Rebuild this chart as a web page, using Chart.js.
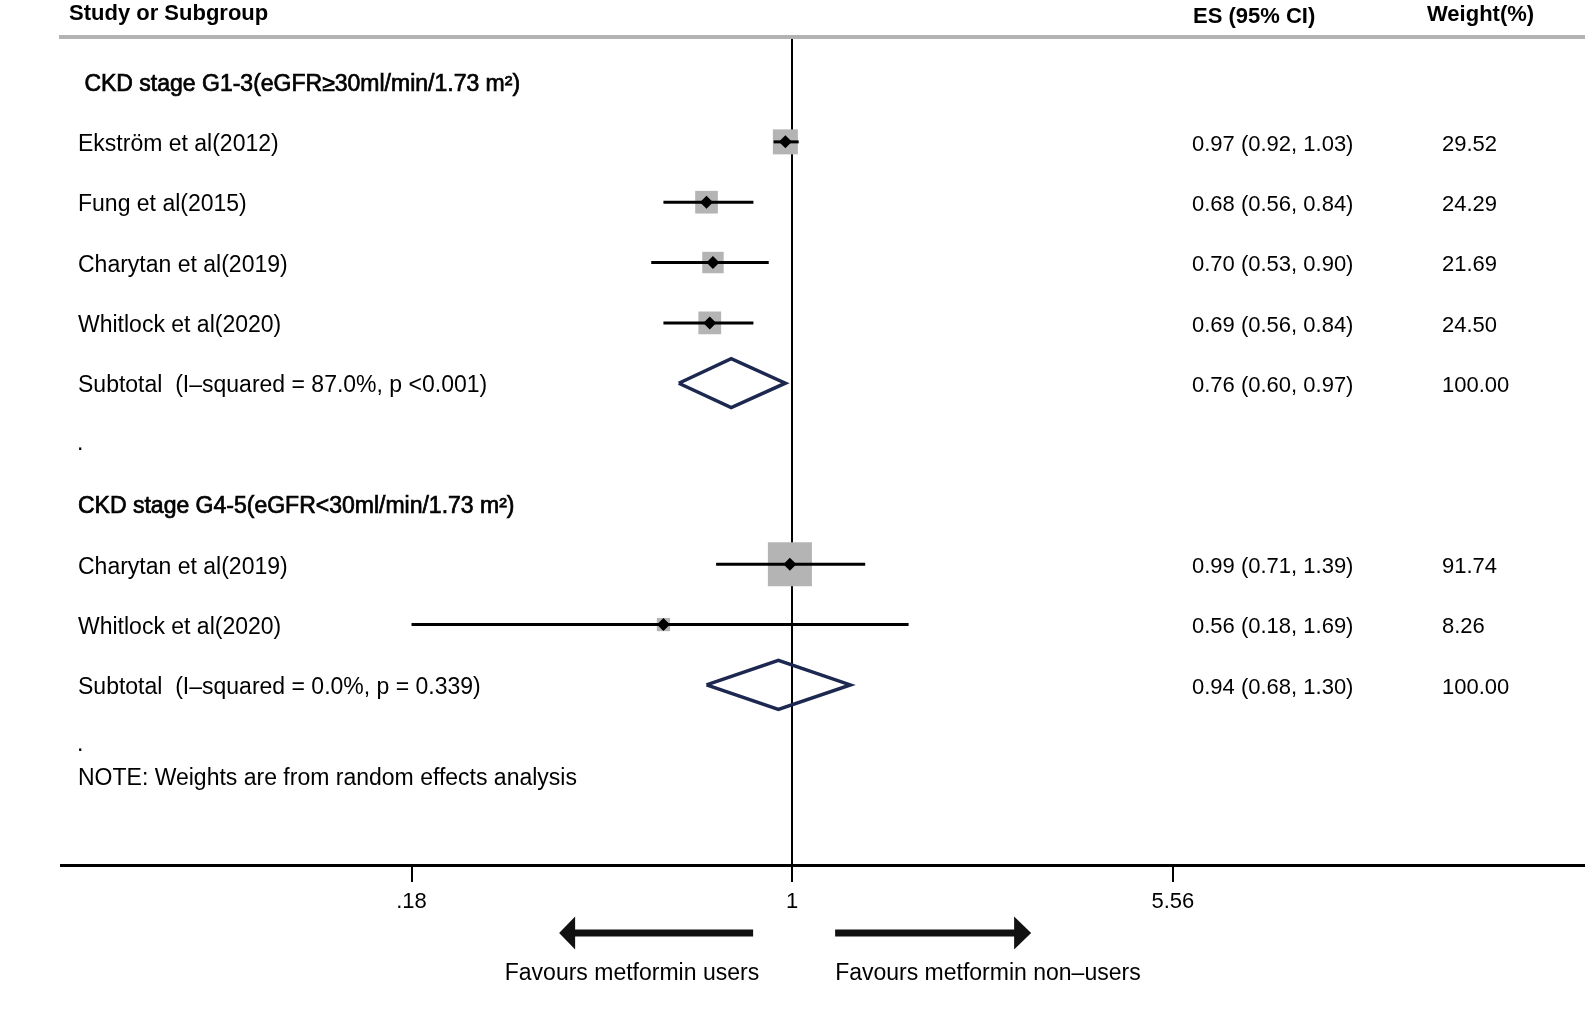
<!DOCTYPE html>
<html lang="en">
<head>
  <meta charset="UTF-8">
  <title>Forest plot - metformin and CKD stage</title>
  <script src="https://cdn.jsdelivr.net/npm/chart.js"></script>
  <style>
    body { margin: 0; background: #fff; }
    #wrap { width: 1585px; height: 1012px; }
  </style>
</head>
<body>
<div id="wrap">
  <canvas id="forest" width="1585" height="1012"></canvas>
</div>

<script>
  // ---- data ----
  const groupNames = [' CKD stage G1-3(eGFR≥30ml/min/1.73 m²)', 'CKD stage G4-5(eGFR<30ml/min/1.73 m²)'];
  const studies = ['Ekström et al(2012)', 'Fung et al(2015)', 'Charytan et al(2019)', 'Whitlock et al(2020)',
                   'Charytan et al(2019)', 'Whitlock et al(2020)'];
  const studyGroup = [0, 0, 0, 0, 1, 1];
  const es = [0.97, 0.68, 0.70, 0.69, 0.99, 0.56];
  const ciLow = [0.92, 0.56, 0.53, 0.56, 0.71, 0.18];
  const ciHigh = [1.03, 0.84, 0.90, 0.84, 1.39, 1.69];
  const weights = [29.52, 24.29, 21.69, 24.50, 91.74, 8.26];

  const subtotalLabels = ['Subtotal  (I–squared = 87.0%, p <0.001)', 'Subtotal  (I–squared = 0.0%, p = 0.339)'];
  const subES = [0.76, 0.94];
  const subLow = [0.60, 0.68];
  const subHigh = [0.97, 1.30];
  const subWeight = [100.00, 100.00];

  const xTicks = [0.18, 1, 5.56];
  const xTickLabels = ['.18', '1', '5.56'];

  // ---- row layout: header, studies, subtotal, spacer per group ----
  const headerRow = [], subtotalRow = [], dotRow = [], studyRow = [];
  let r = 0;
  groupNames.forEach((g, gi) => {
    headerRow.push(r++);
    studyGroup.forEach((sg, si) => { if (sg === gi) studyRow[si] = r++; });
    subtotalRow.push(r++);
    dotRow.push(r++);
  });
  const noteRow = r - 0.5;

  const FONT = '"Liberation Sans", Arial, sans-serif';
  const DIAMOND_HALF = 0.405;   // half height of pooled diamond, in rows
  const SQUARE_K = 4.6;         // square side = k * sqrt(weight)

  const datasets = [];

  // point estimate markers
  datasets.push({
    data: es.map((v, i) => ({ x: v, y: studyRow[i] })),
    pointStyle: 'rectRot',
    pointRadius: 6.5,
    backgroundColor: '#000',
    borderWidth: 0,
    order: 0
  });

  // confidence intervals
  es.forEach((v, i) => {
    datasets.push({
      data: [{ x: ciLow[i], y: studyRow[i] }, { x: ciHigh[i], y: studyRow[i] }],
      showLine: true,
      borderColor: '#000',
      borderWidth: 3,
      pointRadius: 0,
      order: 1
    });
  });

  // weight squares
  datasets.push({
    data: weights.map((w, i) => ({ x: es[i], y: studyRow[i] })),
    pointStyle: 'rect',
    pointRadius: c => SQUARE_K * Math.sqrt(weights[c.dataIndex]) / Math.SQRT2,
    backgroundColor: '#b4b4b4',
    borderWidth: 0,
    order: 2
  });

  // pooled diamonds
  subES.forEach((v, i) => {
    const y = subtotalRow[i];
    datasets.push({
      data: [
        { x: subLow[i], y: y },
        { x: v, y: y - DIAMOND_HALF },
        { x: subHigh[i], y: y },
        { x: v, y: y + DIAMOND_HALF },
        { x: subLow[i], y: y }
      ],
      showLine: true,
      borderColor: '#1c2850',
      borderWidth: 3.5,
      borderJoinStyle: 'miter',
      pointRadius: 0,
      tension: 0,
      order: 1
    });
  });

  // text columns, headers, arrows
  const forestText = {
    id: 'forestText',
    afterDatasetsDraw(chart) {
      const { ctx, scales: { x, y } } = chart;
      const base = (row, size) => y.getPixelForValue(row) + size * 0.36 + 1;
      const fmt = v => v.toFixed(2);
      ctx.save();
      ctx.fillStyle = '#000';
      ctx.textBaseline = 'alphabetic';
      ctx.textAlign = 'left';

      ctx.font = 'bold 22px ' + FONT;
      ctx.fillText('Study or Subgroup', 69, 20);
      ctx.fillText('ES (95% CI)', 1193, 23);
      ctx.fillText('Weight(%)', 1427, 21);

      // subgroup headings (slightly heavier)
      ctx.font = '23px ' + FONT;
      ctx.strokeStyle = '#000';
      ctx.lineWidth = 0.7;
      groupNames.forEach((g, i) => {
        ctx.fillText(g, 78, base(headerRow[i], 23));
        ctx.strokeText(g, 78, base(headerRow[i], 23));
      });

      studies.forEach((s, i) => ctx.fillText(s, 78, base(studyRow[i], 23)));
      subtotalLabels.forEach((s, i) => ctx.fillText(s, 78, base(subtotalRow[i], 23)));
      dotRow.forEach(row => ctx.fillText('.', 77, y.getPixelForValue(row) + 6));
      ctx.fillText('NOTE: Weights are from random effects analysis', 78, base(noteRow, 23));

      ctx.font = '22px ' + FONT;
      es.forEach((v, i) => {
        const b = base(studyRow[i], 22);
        ctx.fillText(fmt(v) + ' (' + fmt(ciLow[i]) + ', ' + fmt(ciHigh[i]) + ')', 1192, b);
        ctx.fillText(fmt(weights[i]), 1442, b);
      });
      subES.forEach((v, i) => {
        const b = base(subtotalRow[i], 22);
        ctx.fillText(fmt(v) + ' (' + fmt(subLow[i]) + ', ' + fmt(subHigh[i]) + ')', 1192, b);
        ctx.fillText(fmt(subWeight[i]), 1442, b);
      });

      // direction arrows under the axis
      const xc = x.getPixelForValue(1);
      const ay = 933;
      ctx.fillStyle = '#111';
      ctx.beginPath();
      ctx.moveTo(xc - 233, ay);
      ctx.lineTo(xc - 217, ay - 16.5);
      ctx.lineTo(xc - 217, ay - 3.5);
      ctx.lineTo(xc - 39, ay - 3.5);
      ctx.lineTo(xc - 39, ay + 3.5);
      ctx.lineTo(xc - 217, ay + 3.5);
      ctx.lineTo(xc - 217, ay + 16.5);
      ctx.closePath();
      ctx.fill();
      ctx.beginPath();
      ctx.moveTo(xc + 239, ay);
      ctx.lineTo(xc + 222, ay - 16.5);
      ctx.lineTo(xc + 222, ay - 3.5);
      ctx.lineTo(xc + 43, ay - 3.5);
      ctx.lineTo(xc + 43, ay + 3.5);
      ctx.lineTo(xc + 222, ay + 3.5);
      ctx.lineTo(xc + 222, ay + 16.5);
      ctx.closePath();
      ctx.fill();

      ctx.fillStyle = '#000';
      ctx.font = '23px ' + FONT;
      ctx.textAlign = 'right';
      ctx.fillText('Favours metformin users', xc - 33, 980);
      ctx.textAlign = 'left';
      ctx.fillText('Favours metformin non–users', xc + 43, 980);
      ctx.restore();
    }
  };

  new Chart(document.getElementById('forest'), {
    type: 'scatter',
    data: { datasets: datasets },
    options: {
      responsive: false,
      animation: false,
      events: [],
      layout: { autoPadding: false, padding: { left: 61, right: 0, top: 37, bottom: 0 } },
      plugins: { legend: { display: false }, tooltip: { enabled: false } },
      scales: {
        x: {
          type: 'logarithmic',
          position: 'bottom',
          min: 0.0371,
          max: 35.6,
          afterBuildTicks: s => { s.ticks = xTicks.map(v => ({ value: v })); },
          afterFit: s => { s.height = 147; s.paddingLeft = 0; s.paddingRight = 0; },
          border: { display: true, color: '#000', width: 3 },
          grid: {
            color: c => (c.tick && c.tick.value === 1) ? '#000' : 'rgba(0,0,0,0)',
            lineWidth: 2,
            drawTicks: true,
            tickLength: 17,
            tickColor: '#000',
            tickWidth: 2
          },
          ticks: {
            color: '#000',
            font: { family: FONT, size: 22 },
            padding: 7,
            maxRotation: 0,
            autoSkip: false,
            callback: (v, i) => xTickLabels[i]
          }
        },
        xTop: {
          type: 'logarithmic',
          position: 'top',
          display: true,
          min: 0.0371,
          max: 35.6,
          afterFit: s => { s.height = 0; s.paddingLeft = 0; s.paddingRight = 0; },
          border: { display: true, color: '#b3b3b3', width: 4 },
          grid: { display: false, drawTicks: false },
          ticks: { display: false }
        },
        y: {
          type: 'linear',
          display: false,
          reverse: true,
          min: -0.738,
          max: 12.985
        }
      }
    },
    plugins: [forestText]
  });
</script>
</body>
</html>
